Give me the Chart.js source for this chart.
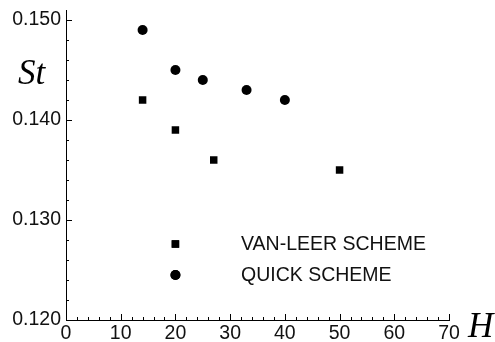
<!DOCTYPE html>
<html>
<head>
<meta charset="utf-8">
<script src="https://cdn.jsdelivr.net/npm/chart.js@4"></script>
<style>
  html, body { margin: 0; padding: 0; background: #fff; }
  #wrap { width: 495px; height: 342px; }
</style>
</head>
<body>
<div id="wrap"><canvas id="stChart"></canvas></div>
<script>
// data
var seriesNames = ["VAN-LEER SCHEME", "QUICK SCHEME"];
var vanLeerH = [14, 20, 27, 50];
var vanLeerSt = [0.142, 0.139, 0.136, 0.135];
var quickH = [14, 20, 25, 33, 40];
var quickSt = [0.149, 0.145, 0.144, 0.143, 0.142];
var xTicks = [0, 10, 20, 30, 40, 50, 60, 70];
var yTicks = [0.120, 0.130, 0.140, 0.150];

function toPoints(xs, ys) {
  return xs.map(function (x, i) { return { x: x, y: ys[i] }; });
}

var FONT = "'Liberation Sans', Arial, sans-serif";

// small tick marks pointing into the plot, long ones where a label sits
var innerTicks = {
  id: "innerTicks",
  afterDraw: function (chart) {
    var c = chart.ctx, a = chart.chartArea;
    var sx = chart.scales.x, sy = chart.scales.y;
    c.save();
    c.strokeStyle = "#000";
    c.lineWidth = 1;
    c.beginPath();
    sx.ticks.forEach(function (t) {
      var px = Math.round(sx.getPixelForValue(t.value)) + 0.5;
      var len = xTicks.indexOf(Math.round(t.value)) >= 0 ? 6 : 3;
      c.moveTo(px, a.bottom);
      c.lineTo(px, a.bottom - len);
    });
    sy.ticks.forEach(function (t) {
      var py = Math.round(sy.getPixelForValue(t.value)) + 0.5;
      var major = yTicks.some(function (v) { return Math.abs(v - t.value) < 1e-6; });
      c.moveTo(a.left, py);
      c.lineTo(a.left + (major ? 6 : 3), py);
    });
    c.stroke();

    // axis titles
    c.fillStyle = "#000";
    c.font = "italic 35px 'Liberation Serif', 'Times New Roman', serif";
    c.textBaseline = "alphabetic";
    c.textAlign = "left";
    c.fillText("St", 18, 84);
    c.fillText("H", 468, 337);

    // legend inside the plot
    var items = [
      { ds: chart.data.datasets[0], hx: 20, st: 0.1276 },
      { ds: chart.data.datasets[1], hx: 20, st: 0.1245 }
    ];
    c.font = "19.5px " + FONT;
    c.textBaseline = "middle";
    items.forEach(function (it) {
      var px = sx.getPixelForValue(it.hx);
      var py = sy.getPixelForValue(it.st);
      c.fillStyle = "#000";
      Chart.helpers.drawPoint(c, {
        pointStyle: it.ds.pointStyle,
        radius: it.ds.pointRadius,
        borderWidth: 0,
        rotation: 0
      }, px, py);
      c.fill();
      c.fillStyle = "#111";
      c.fillText(it.ds.label, 241, py + 1);
    });
    c.restore();
  }
};

var ctx = document.getElementById("stChart").getContext("2d");
var stChart = new Chart(ctx, {
  type: "scatter",
  data: {
    datasets: [
      {
        label: seriesNames[0],
        data: toPoints(vanLeerH, vanLeerSt),
        pointStyle: "rect",
        pointRadius: 5.3,
        backgroundColor: "#000",
        borderColor: "#000",
        borderWidth: 0
      },
      {
        label: seriesNames[1],
        data: toPoints(quickH, quickSt),
        pointStyle: "circle",
        pointRadius: 5,
        backgroundColor: "#000",
        borderColor: "#000",
        borderWidth: 0
      }
    ]
  },
  options: {
    responsive: true,
    maintainAspectRatio: false,
    animation: false,
    layout: { padding: { left: 0, right: 46, top: 10, bottom: 0 } },
    plugins: {
      legend: { display: false },
      tooltip: { enabled: false }
    },
    scales: {
      x: {
        type: "linear",
        min: 0,
        max: 70,
        grid: { display: false, drawTicks: false },
        border: { display: true, color: "#000", width: 1 },
        ticks: {
          stepSize: 2,
          autoSkip: false,
          maxRotation: 0,
          padding: 2,
          color: "#111",
          font: { family: FONT, size: 19.5 },
          callback: function (v) {
            return xTicks.indexOf(Math.round(v)) >= 0 ? String(Math.round(v)) : "";
          }
        },
        afterFit: function (s) {
          s.height = 22;
          s.paddingLeft = 0;
          s.paddingRight = 0;
        }
      },
      y: {
        type: "linear",
        min: 0.12,
        max: 0.151,
        grid: { display: false, drawTicks: false },
        border: { display: true, color: "#000", width: 1 },
        ticks: {
          stepSize: 0.002,
          includeBounds: false,
          autoSkip: false,
          padding: 5,
          color: "#111",
          font: { family: FONT, size: 19.5 },
          callback: function (v) {
            var hit = yTicks.filter(function (t) { return Math.abs(t - v) < 1e-6; });
            return hit.length ? hit[0].toFixed(3) : "";
          }
        },
        afterFit: function (s) {
          s.width = 66;
          s.paddingTop = 0;
          s.paddingBottom = 0;
        }
      }
    }
  },
  plugins: [innerTicks]
});
</script>
</body>
</html>
